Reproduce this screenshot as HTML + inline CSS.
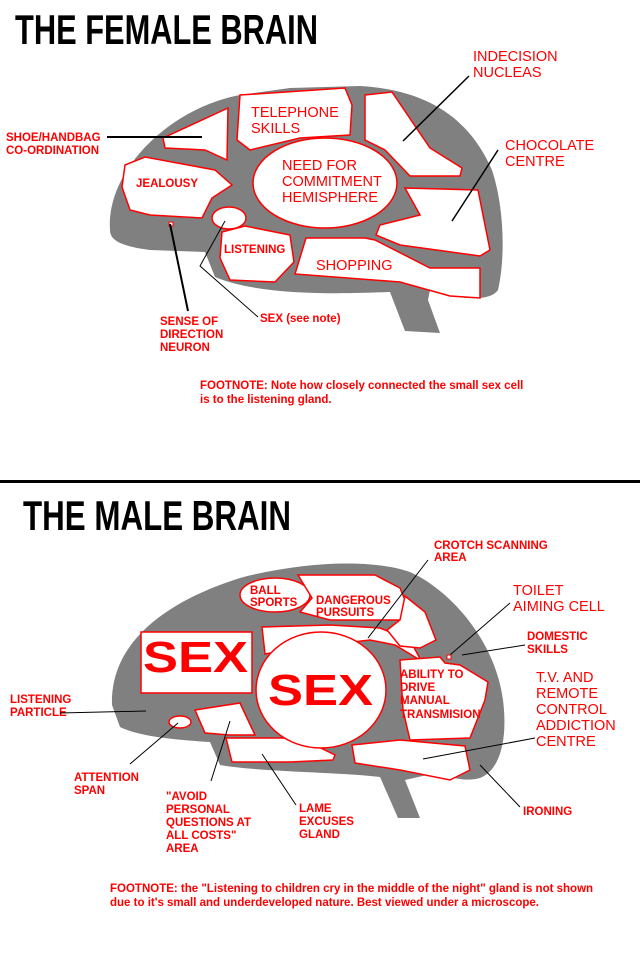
<!DOCTYPE html>
<html><head><style>
html,body{margin:0;padding:0;background:#fff;}
svg{display:block}
text{font-family:"Liberation Sans",sans-serif;fill:#f00;}
.s{font-size:11.5px;font-weight:bold;}
.m{font-size:14.5px;}
.t{font-weight:bold;fill:#000;font-size:42px;}
.r{fill:#fff;stroke:#f00;stroke-width:1.5;}
.l{stroke:#000;fill:none;}
</style></head><body>
<svg width="640" height="964" viewBox="0 0 640 964">
<text class="t" x="15" y="44" textLength="303" lengthAdjust="spacingAndGlyphs">THE FEMALE BRAIN</text>
<path d="M110,230 C106,170 170,108 240,95 L290,88 L360,86 C430,90 470,120 492,170 C505,210 505,260 498,290 C490,302 460,300 430,290 L428,300 L440,333 L405,331 L390,292 C340,294 260,296 215,277 L205,252 L150,250 C120,246 110,240 110,230 Z" fill="#808080"/>
<polygon class="r" points="163,138 228,108 227,160 205,150 165,148"/>
<polygon class="r" points="240,95 345,88 352,105 350,135 300,138 250,150 237,140"/>
<polygon class="r" points="365,95 392,92 430,148 462,168 460,176 410,176 385,150 365,140"/>
<polygon class="r" points="405,188 478,190 490,250 480,256 400,245 376,235 380,225 420,215"/>
<polygon class="r" points="125,165 145,157 215,170 232,185 212,198 202,218 150,215 130,210 122,187"/>
<ellipse class="r" cx="325" cy="183" rx="72" ry="45"/>
<ellipse class="r" cx="229" cy="218" rx="17" ry="11"/>
<polygon class="r" points="222,232 245,226 290,235 294,262 275,282 230,280 220,258"/>
<polygon class="r" points="306,238 365,238 375,240 430,268 480,268 480,298 450,296 400,282 295,274"/>
<rect x="169" y="222" width="4" height="4" fill="#fff" stroke="#f00"/>
<text class="m" x="251" y="117">TELEPHONE</text><text class="m" x="251" y="133">SKILLS</text>
<text class="m" x="282" y="170">NEED FOR</text><text class="m" x="282" y="186">COMMITMENT</text><text class="m" x="282" y="202">HEMISPHERE</text>
<text class="s" x="136" y="187">JEALOUSY</text>
<text class="s" x="224" y="253">LISTENING</text>
<text class="m" x="316" y="270">SHOPPING</text>
<text class="m" x="473" y="61">INDECISION</text><text class="m" x="473" y="77">NUCLEAS</text>
<text class="m" x="505" y="150">CHOCOLATE</text><text class="m" x="505" y="166">CENTRE</text>
<text class="s" x="6" y="141">SHOE/HANDBAG</text><text class="s" x="6" y="154">CO-ORDINATION</text>
<text class="s" x="160" y="325">SENSE OF</text><text class="s" x="160" y="338">DIRECTION</text><text class="s" x="160" y="351">NEURON</text>
<text class="s" x="260" y="322">SEX (see note)</text>
<text class="s" x="200" y="389">FOOTNOTE:  Note how closely connected the small sex cell</text>
<text class="s" x="200" y="403">is to the listening gland.</text>
<line class="l" x1="107" y1="137" x2="202" y2="137" stroke-width="2"/>
<line class="l" x1="170" y1="224" x2="188" y2="311" stroke-width="2"/>
<line class="l" x1="403" y1="141" x2="469" y2="76" stroke-width="1.5"/>
<line class="l" x1="452" y1="221" x2="498" y2="150" stroke-width="1.5"/>
<polyline class="l" points="225,221 200,266 258,317" stroke-width="1"/>
<rect x="0" y="480" width="640" height="3" fill="#000"/>
<text class="t" x="23" y="530" textLength="268" lengthAdjust="spacingAndGlyphs">THE MALE BRAIN</text>
<path d="M112,705 C110,640 170,600 240,578 C300,562 370,558 410,572 C450,590 495,640 503,700 C508,740 500,770 480,778 C465,782 450,778 440,772 L405,780 L420,818 L398,818 L380,777 C340,772 260,772 220,765 L210,742 C180,740 140,737 120,727 Z" fill="#808080"/>
<ellipse class="r" cx="275" cy="595" rx="35" ry="17"/>
<polygon class="r" points="298,575 375,575 400,588 410,612 405,620 330,620 300,612 312,598"/>
<polygon class="r" points="262,627 330,625 380,628 410,640 425,668 420,660 395,645 370,640 300,648 265,654"/>
<polygon class="r" points="405,596 425,612 436,640 420,648 400,646 387,630 400,620"/>
<polygon class="r" points="400,660 440,657 445,663 460,665 488,682 485,700 470,738 410,740 403,710"/>
<polygon class="r" points="195,710 240,703 255,735 230,735 205,733"/>
<polygon class="r" points="226,738 300,738 335,755 333,760 290,762 232,762"/>
<polygon class="r" points="352,745 400,740 465,746 470,770 450,780 400,770 355,763"/>
<rect class="r" x="141" y="632" width="111" height="61"/>
<ellipse class="r" cx="321" cy="690" rx="65" ry="58"/>
<ellipse class="r" cx="180" cy="722" rx="11" ry="6"/>
<text x="143" y="672" style="font-size:44px;font-weight:bold;" textLength="105" lengthAdjust="spacingAndGlyphs">SEX</text>
<text x="268" y="705" style="font-size:44px;font-weight:bold;" textLength="105" lengthAdjust="spacingAndGlyphs">SEX</text>
<text class="s" x="250" y="594">BALL</text><text class="s" x="250" y="606">SPORTS</text>
<text class="s" x="316" y="604">DANGEROUS</text><text class="s" x="316" y="616">PURSUITS</text>
<text class="s" x="400" y="678">ABILITY TO</text><text class="s" x="400" y="691">DRIVE</text><text class="s" x="400" y="704">MANUAL</text><text class="s" x="400" y="718">TRANSMISION</text>
<text class="s" x="434" y="549">CROTCH SCANNING</text><text class="s" x="434" y="561">AREA</text>
<text class="m" x="513" y="595">TOILET</text><text class="m" x="513" y="611">AIMING CELL</text>
<text class="s" x="527" y="640">DOMESTIC</text><text class="s" x="527" y="653">SKILLS</text>
<text class="m" x="536" y="682">T.V. AND</text><text class="m" x="536" y="698">REMOTE</text><text class="m" x="536" y="714">CONTROL</text><text class="m" x="536" y="730">ADDICTION</text><text class="m" x="536" y="746">CENTRE</text>
<text class="s" x="523" y="815">IRONING</text>
<text class="s" x="10" y="703">LISTENING</text><text class="s" x="10" y="716">PARTICLE</text>
<text class="s" x="74" y="781">ATTENTION</text><text class="s" x="74" y="794">SPAN</text>
<text class="s" x="166" y="800">"AVOID</text><text class="s" x="166" y="813">PERSONAL</text><text class="s" x="166" y="826">QUESTIONS AT</text><text class="s" x="166" y="839">ALL COSTS"</text><text class="s" x="166" y="852">AREA</text>
<text class="s" x="299" y="812">LAME</text><text class="s" x="299" y="825">EXCUSES</text><text class="s" x="299" y="838">GLAND</text>
<text class="s" x="110" y="892">FOOTNOTE: the "Listening to children cry in the middle of the night" gland is not shown</text>
<text class="s" x="110" y="906">due to it's small and underdeveloped nature.  Best viewed under a microscope.</text>
<g class="l" stroke-width="1">
<line x1="60" y1="713" x2="146" y2="711"/>
<line x1="130" y1="764" x2="178" y2="723"/>
<line x1="211" y1="781" x2="230" y2="721"/>
<line x1="296" y1="805" x2="262" y2="754"/>
<line x1="368" y1="638" x2="428" y2="560"/>
<line x1="450" y1="655" x2="510" y2="603"/>
<line x1="462" y1="655" x2="525" y2="645"/>
<line x1="423" y1="759" x2="535" y2="738"/>
<line x1="480" y1="765" x2="520" y2="807"/>
</g>
<rect x="447" y="655" width="4" height="4" fill="#fff" stroke="#f00"/>
</svg>
</body></html>
